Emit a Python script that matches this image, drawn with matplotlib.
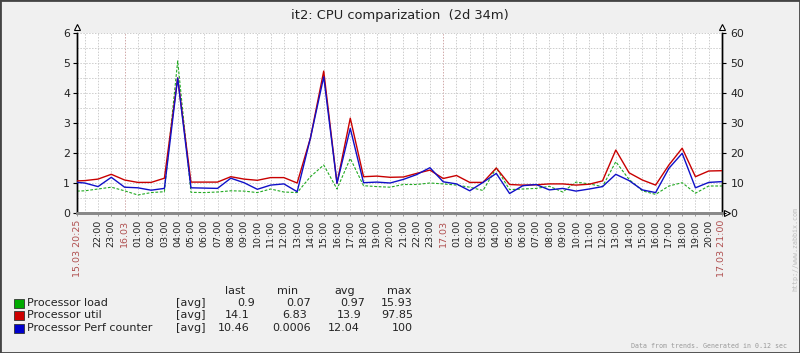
import numpy as np
import matplotlib
matplotlib.use("Agg")
import matplotlib.pyplot as plt
from matplotlib.patches import Rectangle

# ---- data ----
# time in hours since 15.03 00:00 (start 20:25, then hourly to 17.03 21:00)
times = [20 + 25/60] + list(range(21, 70))
load = [0.73, 0.74, 0.80, 0.86,
        0.74, 0.60, 0.68, 0.71, 5.07, 0.69, 0.68, 0.70, 0.74, 0.73, 0.68, 0.80,
        0.70, 0.68, 1.21, 1.60, 0.80, 1.82, 0.91, 0.88, 0.86, 0.95, 0.95, 1.00,
        0.97, 0.93, 0.86, 0.75, 1.50, 0.78, 0.80, 0.82, 0.89, 0.70, 1.03, 0.97,
        0.88, 1.71, 1.12, 0.74, 0.62, 0.90, 1.01, 0.66, 0.90, 0.90]
util = [10.7, 10.8, 11.3, 12.9,
        11.0, 10.2, 10.2, 11.6, 45.0, 10.3, 10.3, 10.3, 12.1, 11.3, 10.9, 11.8,
        11.8, 10.0, 25.0, 47.3, 9.9, 31.6, 12.1, 12.3, 11.9, 12.0, 13.2, 14.3,
        11.5, 12.5, 10.2, 10.2, 15.0, 9.5, 9.3, 9.4, 9.7, 9.7, 9.3, 9.6,
        10.7, 21.0, 13.4, 11.0, 9.3, 16.0, 21.6, 12.1, 14.0, 14.1]
perf = [10.2, 10.0, 8.8, 11.9,
        8.6, 8.4, 7.6, 8.2, 45.0, 8.4, 8.3, 8.2, 11.6, 10.1, 7.9, 9.3,
        9.7, 7.1, 25.0, 45.4, 9.9, 28.2, 10.1, 10.3, 10.0, 11.2, 12.8, 15.1,
        10.4, 9.7, 7.4, 10.2, 13.2, 6.5, 9.1, 9.5, 7.7, 8.2, 7.3, 8.0,
        8.8, 12.9, 10.8, 7.7, 6.8, 14.9, 19.9, 8.4, 10.2, 10.46]

tick_pos = [20 + 25/60, 22, 23] + list(range(24, 69)) + [69]
tick_lab = ["15.03 20:25", "22:00", "23:00", "16.03"] + \
           ["%02d:00" % h for h in range(1, 24)] + ["17.03"] + \
           ["%02d:00" % h for h in range(1, 21)] + ["17.03 21:00"]
red_labels = {"15.03 20:25", "16.03", "17.03", "17.03 21:00"}

legend_names = ["Processor load", "Processor util", "Processor Perf counter"]
legend_colors = ["#00aa00", "#cc0000", "#0000cc"]
col_heads = ["last", "min", "avg", "max"]
stats = [["0.9", "0.07", "0.97", "15.93"],
         ["14.1", "6.83", "13.9", "97.85"],
         ["10.46", "0.0006", "12.04", "100"]]

W, H = 800, 353
BG = "#f0f0f0"
fig = plt.figure(figsize=(W/100, H/100), dpi=100, facecolor=BG)

def fx(x): return x / W
def fy(y): return 1 - y / H

L, R, T, B = 77, 722, 33, 213
ax = fig.add_axes([fx(L), fy(B), fx(R) - fx(L), fy(T) - fy(B)])
ax.set_facecolor("white")
ax2 = ax.twinx()

ax.set_xlim(times[0], 69)
ax.set_ylim(0, 6)
ax2.set_ylim(0, 60)

# grid
gridc = "#cdcdcd"
for h in range(21, 69):
    c = "#d0a8a8" if h in (24, 48) else gridc
    ax.axvline(h, color=c, lw=0.7, ls=(0, (1.5, 1.5)), zorder=0)
for v in np.arange(0.5, 6.01, 0.5):
    ax.axhline(v, color=gridc, lw=0.7, ls=(0, (1.5, 1.5)), zorder=0)

ax.plot(times, load, color="#22aa22", lw=0.8, ls=(0, (2.5, 1.5)), zorder=3)
ax2.plot(times, util, color="#c80000", lw=1.0, zorder=3)
ax2.plot(times, perf, color="#1010c8", lw=1.0, zorder=4)

# spines
for a in (ax, ax2):
    a.spines["top"].set_visible(False)
    a.spines["left"].set_color("black")
    a.spines["right"].set_color("black")
    a.spines["bottom"].set_color("#888888")
    a.spines["bottom"].set_linewidth(2.0)
    a.spines["left"].set_linewidth(1.0)
    a.spines["right"].set_linewidth(1.0)

ax.set_yticks(range(0, 7))
ax.set_yticklabels([str(i) for i in range(0, 7)], fontsize=7.8, color="#222222")
ax2.set_yticks(range(0, 61, 10))
ax2.set_yticklabels([str(i) for i in range(0, 61, 10)], fontsize=7.8, color="#222222")
ax.tick_params(axis="y", length=3, width=0.8, pad=2)
ax2.tick_params(axis="y", length=3, width=0.8, pad=3)

ax.set_xticks(tick_pos)
ax.set_xticklabels(tick_lab, rotation=90, fontsize=6.8, family="DejaVu Sans")
for t in ax.get_xticklabels():
    t.set_color("#b05050" if t.get_text() in red_labels else "#222222")
ax.tick_params(axis="x", length=2, width=0.6, color="#888888", pad=3)

# axis arrows
ax.plot([0], [1.035], marker="^", ms=5, mfc="white", mec="black", mew=0.8,
        transform=ax.transAxes, clip_on=False)
ax.plot([1], [1.035], marker="^", ms=5, mfc="white", mec="black", mew=0.8,
        transform=ax.transAxes, clip_on=False)
ax.plot([1.008], [0], marker=">", ms=5, mfc="white", mec="black", mew=0.8,
        transform=ax.transAxes, clip_on=False)

# title
fig.text(fx(400), fy(16), "it2: CPU comparization  (2d 34m)", ha="center",
         va="center", fontsize=9.4, color="#222222")

# legend
FS = 8.0
head_x = [235, 288, 345, 399]
val_x = [[255, 311, 365, 413], [250, 307, 362, 413], [250, 311, 360, 413]]
for j in range(4):
    fig.text(fx(head_x[j]), fy(291), col_heads[j], ha="center", va="center",
             fontsize=FS, color="#222222")
row_y = [303, 315.5, 328]
for i, name in enumerate(legend_names):
    y = row_y[i]
    fig.patches.append(Rectangle((fx(13.5), fy(y + 4.5)), 10 / W, 9 / H,
                                 transform=fig.transFigure, facecolor=legend_colors[i],
                                 edgecolor="#333333", lw=0.6))
    fig.text(fx(27), fy(y), name, ha="left", va="center", fontsize=FS, color="#222222")
    fig.text(fx(176), fy(y), "[avg]", ha="left", va="center", fontsize=FS, color="#222222")
    for j in range(4):
        fig.text(fx(val_x[i][j]), fy(y), stats[i][j], ha="right", va="center",
                 fontsize=FS, color="#222222")

fig.text(fx(787), fy(346), "Data from trends. Generated in 0.12 sec", ha="right",
         va="center", fontsize=4.8, color="#999999", family="DejaVu Sans Mono")
fig.text(fx(795), fy(249), "http://www.zabbix.com", ha="center", va="center",
         rotation=90, fontsize=4.8, color="#bbbbbb", family="DejaVu Sans Mono")

# outer border
fig.patches.append(Rectangle((0, 0), 1, 1, transform=fig.transFigure, fill=False,
                             edgecolor="#444444", lw=2))

fig.savefig("out.png", dpi=100, facecolor=BG)
